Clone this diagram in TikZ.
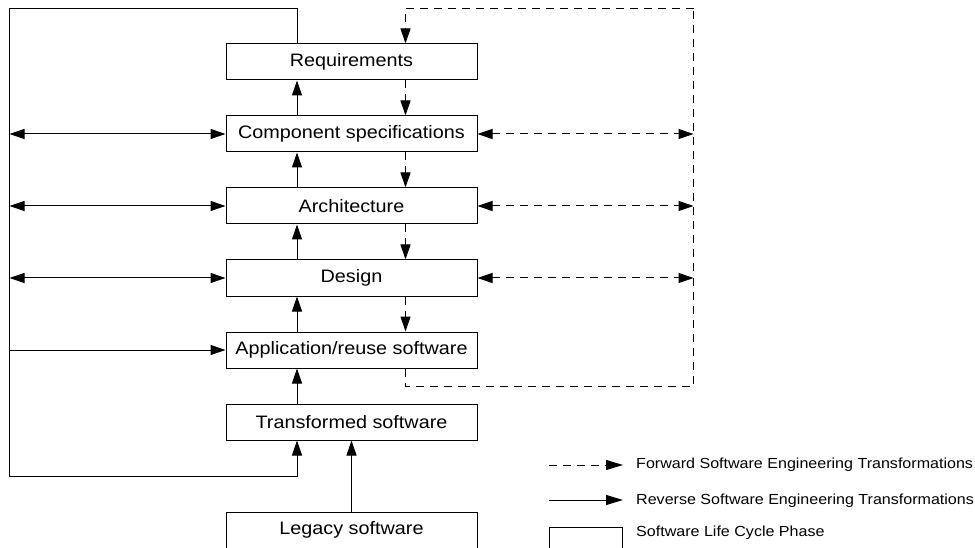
\documentclass[tikz,border=0pt]{standalone}
\usepackage{fontspec}
\setmainfont{Liberation Sans}[FakeStretch=1.1]
\usetikzlibrary{arrows.meta}
\tikzset{
  phase/.style={draw, line width=1pt, minimum width=251pt, minimum height=36pt, inner sep=0pt, font=\fontsize{18}{20}\selectfont},
  rev/.style={line width=1pt},
  fwd/.style={line width=1pt, dash pattern=on 8pt off 6pt},
  tip/.tip={Triangle[length=15pt, width=10pt]},
  ltip/.tip={Triangle[length=17pt, width=10pt]},
  legtxt/.style={anchor=west, inner sep=0pt, font=\fontsize{14.6}{16}\selectfont}
}
\begin{document}
\begin{tikzpicture}[x=1pt, y=-1pt]
\useasboundingbox (0,0) rectangle (975,548);
% phases
\node[phase] (req) at (351.5,62) {Requirements};
\node[phase] (comp) at (351.5,134) {Component specifications};
\node[phase] (arch) at (351.5,206) {Architecture};
\node[phase] (des) at (351.5,278) {Design};
\node[phase] (app) at (351.5,350) {Application/reuse software};
\node[phase] (trans) at (351.5,422) {Transformed software};
\node[phase] (leg) at (351.5,530) {Legacy software};
% helper coordinates
\coordinate (sx) at (297,0);
\coordinate (dx) at (405.5,0);
\coordinate (tl) at (9.5,8.5);
\coordinate (bl) at (9.5,476);
\coordinate (tr) at (693.5,8.5);
\coordinate (br) at (693.5,386);
% reverse (solid)
\draw[rev, -tip] (sx |- req.north) |- (tl) -- (bl) -| (sx |- trans.south);
\draw[rev, tip-tip] (tl |- comp) -- (comp.west);
\draw[rev, tip-tip] (tl |- arch) -- (arch.west);
\draw[rev, tip-tip] (tl |- des) -- (des.west);
\draw[rev, -tip] (tl |- app) -- (app.west);
\draw[rev, -tip] (sx |- comp.north) -- (sx |- req.south);
\draw[rev, -tip] (sx |- arch.north) -- (sx |- comp.south);
\draw[rev, -tip] (sx |- des.north) -- (sx |- arch.south);
\draw[rev, -tip] (sx |- app.north) -- (sx |- des.south);
\draw[rev, -tip] (sx |- trans.north) -- (sx |- app.south);
\draw[rev, -tip] (leg.north) -- (trans.south);
% forward (dashed)
\draw[fwd, -tip] (tr) -| (dx |- req.north);
\draw[fwd, -tip] (dx |- req.south) -- (dx |- comp.north);
\draw[fwd, -tip] (dx |- comp.south) -- (dx |- arch.north);
\draw[fwd, -tip] (dx |- arch.south) -- (dx |- des.north);
\draw[fwd, -tip] (dx |- des.south) -- (dx |- app.north);
\draw[fwd] (dx |- app.south) |- (br) -- (tr);
\draw[fwd, tip-tip] (comp.east) -- (tr |- comp);
\draw[fwd, tip-tip] (arch.east) -- (tr |- arch);
\draw[fwd, tip-tip] (des.east) -- (tr |- des);
% legend
\coordinate (lf1) at (549,465);
\coordinate (lf2) at (623,465);
\coordinate (lr1) at (549,500);
\coordinate (lr2) at (623,500);
\draw[fwd, -ltip] (lf1) -- (lf2);
\draw[rev, -ltip] (lr1) -- (lr2);
\node[draw, line width=1pt, minimum width=73pt, minimum height=36pt, inner sep=0pt] (lbox) at (585.5,545) {};
\node[legtxt] (lt1) at (636,464.5) {Forward Software Engineering Transformations};
\node[legtxt] (lt2) at (636,500.5) {Reverse Software Engineering Transformations};
\node[legtxt] (lt3) at (636,533) {Software Life Cycle Phase};
\end{tikzpicture}
\end{document}
